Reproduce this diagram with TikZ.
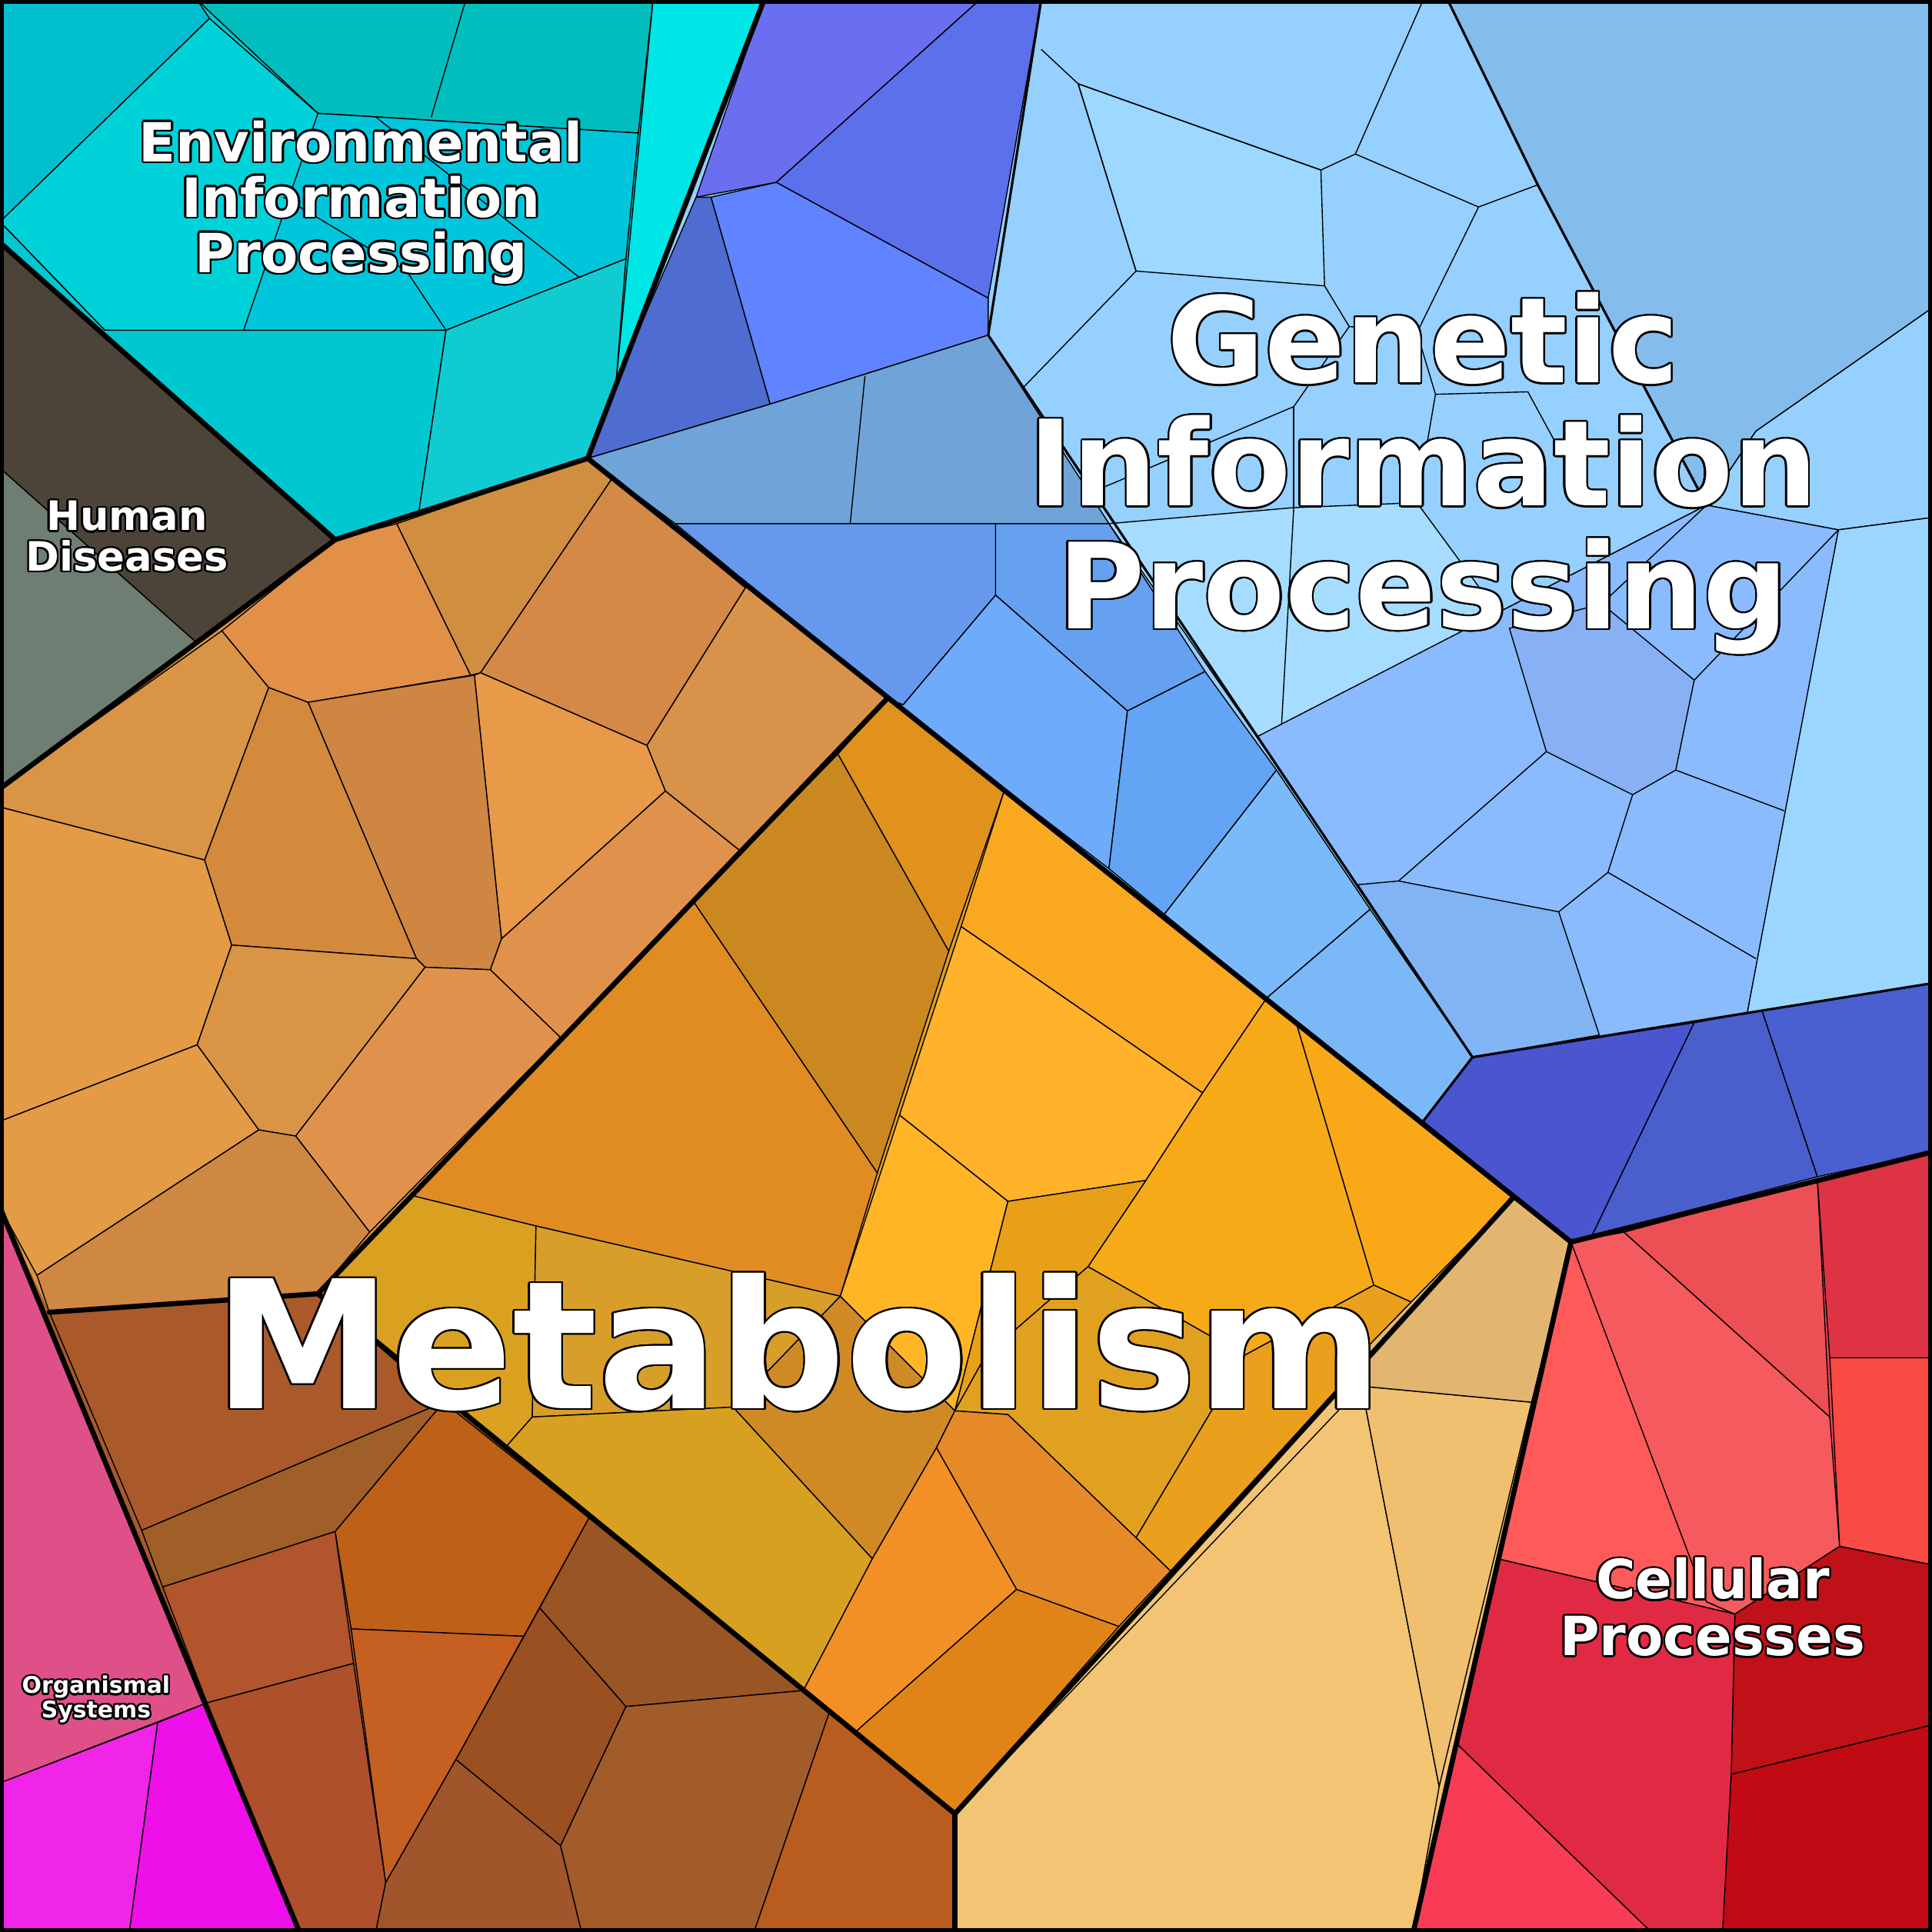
\documentclass[tikz,border=0pt]{standalone}
\usepackage{fontspec}
\setmainfont{DejaVu Sans}
\usepackage{contour}
\contourlength{0.7pt}
\newcommand{\C}[2]{\definecolor{tmpc}{HTML}{#1}\filldraw[cell,fill=tmpc] #2 -- cycle;}
\newcommand{\B}[2]{\definecolor{tmpc}{HTML}{#1}\fill[tmpc] #2 -- cycle;}
\begin{document}
\begin{tikzpicture}[x=0.01602cm,y=-0.01602cm,
  cell/.style={draw=black,line width=0.4pt,line join=round},
  thin/.style={draw=black,line width=0.4pt},
  thick/.style={draw=black,line width=1.9pt,line join=round,line cap=round},
  med/.style={draw=black,line width=0.9pt,line join=round},
  lab/.style={text=white,font=\bfseries,align=center,inner sep=0pt}]
\useasboundingbox (0,0) rectangle (1568,1568);
% ---------- base fills (avoid gaps)
\B{00C8D0}{(0,0)--(620,0)--(477,372)--(272,438)--(0,197)}
\B{4D4439}{(0,197)--(272,438)--(0,640)}
\B{95D0FF}{(620,0)--(1568,0)--(1568,935)--(1275,1008)--(477,372)}
\B{EE4455}{(1275,1008)--(1568,935)--(1568,1568)--(1147,1568)}
\B{D99445}{(0,640)--(272,438)--(477,372)--(720,567)--(258,1050)--(40,1065)--(0,980)}
\B{E0A020}{(720,567)--(1228,972)--(775,1472)--(258,1050)}
\B{A85A2A}{(40,1065)--(258,1050)--(775,1472)--(775,1568)--(243,1568)--(0,980)}
\B{F2C474}{(775,1472)--(1228,972)--(1275,1008)--(1147,1568)--(775,1568)}
\B{E05088}{(0,980)--(243,1568)--(0,1568)}
% ---------- Environmental
\C{00BFCF}{(0,0)--(160,0)--(170,15)--(0,180)}
\C{00BEBE}{(160,0)--(530,0)--(518,108)--(258,92)}
\draw[thin] (378,0)--(350,95);
\C{00D2DA}{(170,15)--(258,92)--(305,95)--(197,270)--(85,268)--(0,180)}
\C{00C6DC}{(258,92)--(518,108)--(508,210)--(362,268)--(197,270)}
\draw[thin] (305,95)--(470,225); \draw[thin] (230,160)--(330,220)--(362,268);
\C{00C8D0}{(85,268)--(362,268)--(340,415)--(272,438)--(0,197)--(0,180)}
\C{10CCD2}{(362,268)--(508,210)--(500,310)--(477,372)--(340,415)}
\C{00E5E5}{(530,0)--(620,0)--(500,310)}
% ---------- Human diseases
\C{4D4439}{(0,197)--(272,438)--(160,522)--(0,380)}
\C{6F7E72}{(0,380)--(160,522)--(0,640)}
% ---------- Genetic
\C{6A6FF0}{(620,0)--(795,0)--(630,148)--(565,160)}
\C{5C70EC}{(795,0)--(845,0)--(802,242)--(630,148)}
\C{6084FF}{(577,160)--(630,148)--(802,242)--(802,272)--(625,328)}
\C{4F6CD0}{(565,160)--(577,160)--(625,328)--(477,372)--(500,310)}
\C{70A4D8}{(477,372)--(625,328)--(802,272)--(900,425)--(548,425)}
\draw[thin] (702,305)--(690,425);
\C{6699EE}{(548,425)--(808,425)--(808,483)--(733,572)--(720,567)}
\C{66A0F0}{(808,425)--(900,425)--(978,545)--(915,577)--(808,483)}
\C{6EABFA}{(733,572)--(808,483)--(915,577)--(900,705)--(720,567)}
\C{64A4F4}{(915,577)--(978,545)--(1036,625)--(945,742)--(900,705)}
\C{7ABAFA}{(1036,625)--(1112,738)--(1028,810)--(945,742)}
\C{7AB8F8}{(1112,738)--(1195,858)--(1155,910)--(1028,810)}
\C{95D0FF}{(802,272)--(845,0)--(1175,0)--(1248,150)--(1385,410)--(1020,598)}
\C{9CD8FF}{(875,68)--(1072,138)--(1075,232)--(922,220)}
\C{A6DCFF}{(900,425)--(1050,412)--(1150,408)--(1225,510)--(1020,598)}
\draw[thin] (845,40)--(875,68)--(922,220)--(830,315);
\draw[thin] (875,68)--(1072,138)--(1100,125)--(1155,0);
\draw[thin] (1100,125)--(1200,168)--(1248,150);
\draw[thin] (1200,168)--(1150,270)--(1095,265)--(1075,232);
\draw[thin] (1150,270)--(1165,320)--(1240,318)--(1290,410);
\draw[thin] (1095,265)--(1050,330)--(885,400);
\draw[thin] (1050,330)--(1050,412);
\draw[thin] (1165,320)--(1150,408);
\draw[thin] (1050,412)--(1040,590);
\C{84BCEC}{(1175,0)--(1568,0)--(1568,250)--(1425,350)--(1385,410)--(1248,150)}
\C{95D0FF}{(1425,350)--(1568,250)--(1568,420)--(1492,430)--(1385,410)}
\C{9AD6FF}{(1492,430)--(1568,420)--(1568,798)--(1418,822)--(1448,658)}
\C{8ABBFF}{(1020,598)--(1385,410)--(1492,430)--(1418,822)--(1195,858)}
\C{88B0F4}{(1225,510)--(1300,490)--(1375,552)--(1360,625)--(1325,645)--(1255,610)}
\C{80B4F4}{(1102,718)--(1135,715)--(1265,740)--(1298,840)--(1195,858)}
\draw[thin] (1135,715)--(1255,610); \draw[thin] (1265,740)--(1305,708)--(1325,645);
\draw[thin] (1305,708)--(1425,778); \draw[thin] (1360,625)--(1448,658);
\draw[thin] (1375,552)--(1492,430); \draw[thin] (1300,490)--(1385,410);
\C{4A55D0}{(1195,858)--(1375,830)--(1292,1003)--(1275,1008)--(1155,910)}
\C{4A5ECC}{(1375,830)--(1430,820)--(1475,955)--(1292,1003)}
\C{4A60D0}{(1430,820)--(1568,798)--(1568,935)--(1475,955)}
% ---------- Cellular
\C{FF5A5A}{(1275,1008)--(1318,1000)--(1385,1300)--(1408,1310)--(1215,1265)}
\C{F55A5E}{(1275,1008)--(1318,1000)--(1485,1150)--(1493,1255)--(1408,1310)--(1385,1300)}
\C{EC5055}{(1318,1000)--(1475,958)--(1485,1150)}
\C{DD3344}{(1475,958)--(1568,935)--(1568,1102)--(1485,1102)}
\C{FA4A44}{(1485,1102)--(1568,1102)--(1568,1270)--(1493,1255)}
\C{C01018}{(1408,1310)--(1493,1255)--(1568,1270)--(1568,1400)--(1405,1440)}
\C{C20A14}{(1405,1440)--(1568,1400)--(1568,1568)--(1398,1568)}
\C{E02A44}{(1215,1265)--(1408,1310)--(1405,1440)--(1398,1568)--(1340,1568)--(1182,1415)}
\C{F83C55}{(1182,1415)--(1340,1568)--(1147,1568)}
% ---------- Metabolism: left orange
\C{E28F48}{(272,438)--(322,425)--(382,548)--(250,570)--(218,558)--(180,512)}
\C{CF8E40}{(322,425)--(477,372)--(497,388)--(390,546)--(382,548)}
\C{D58946}{(497,388)--(605,477)--(525,605)--(390,546)}
\C{D9924A}{(497,388)--(477,372)--(720,567)--(600,690)--(540,642)--(525,605)--(605,477)}
\C{E89A48}{(390,546)--(525,605)--(540,642)--(407,762)--(385,548)}
\C{CE8642}{(250,570)--(385,548)--(407,762)--(398,787)--(345,785)--(338,778)}
\C{D48A3C}{(218,558)--(250,570)--(338,778)--(188,767)--(166,698)}
\C{D99445}{(0,640)--(180,512)--(218,558)--(166,698)--(0,655)}
\C{E39B45}{(0,655)--(166,698)--(188,767)--(160,848)--(0,910)}
\C{D99445}{(188,767)--(338,778)--(345,785)--(240,922)--(210,917)--(160,848)}
\C{E0924C}{(345,785)--(398,787)--(455,842)--(300,1000)--(240,922)}
\C{E0924C}{(398,787)--(407,762)--(540,642)--(600,690)--(455,842)}
\C{E39B45}{(0,910)--(160,848)--(210,917)--(30,1035)--(0,980)}
\C{CF8842}{(30,1035)--(210,917)--(240,922)--(300,1000)--(258,1050)--(40,1065)}
% ---------- diamond
\C{E0921C}{(720,567)--(815,642)--(770,772)--(680,612)}
\C{CC8820}{(680,612)--(770,772)--(712,952)--(563,732)}
\C{E08C22}{(563,732)--(712,952)--(682,1052)--(435,995)--(333,970)}
\C{FAA820}{(720,567)--(1028,810)--(976,887)--(780,752)--(815,642)}
\C{FFB22A}{(780,752)--(976,887)--(930,958)--(818,975)--(730,905)}
\C{FFB526}{(730,905)--(818,975)--(775,1145)--(682,1052)}
\C{F6AA18}{(1028,810)--(1052,830)--(1115,1043)--(1010,1100)--(883,1028)--(930,958)--(976,887)}
\C{F9A817}{(1052,830)--(1228,972)--(1148,1058)--(1115,1043)}
\C{E8A018}{(818,975)--(930,958)--(883,1028)--(800,1100)--(775,1145)}
\C{DAA020}{(333,970)--(435,995)--(432,1150)--(410,1175)--(258,1050)}
\C{D89E2A}{(435,995)--(682,1052)--(595,1142)--(432,1150)}
\C{D8A020}{(410,1175)--(432,1150)--(595,1142)--(708,1265)--(652,1372)}
\C{D08A25}{(595,1142)--(682,1052)--(775,1145)--(760,1175)--(708,1265)}
\C{E0A020}{(775,1145)--(800,1100)--(883,1028)--(1010,1100)--(922,1248)--(950,1275)--(818,1148)}
\C{EAA01C}{(1010,1100)--(1115,1043)--(1148,1058)--(1228,972)--(950,1275)--(922,1248)}
\C{E68A28}{(775,1145)--(818,1148)--(950,1275)--(908,1320)--(825,1290)--(760,1175)}
\C{F39025}{(760,1175)--(825,1290)--(695,1405)--(652,1372)--(708,1265)}
\C{E08418}{(695,1405)--(825,1290)--(908,1320)--(775,1472)}
% ---------- brown
\C{AA5A2A}{(40,1065)--(258,1050)--(360,1138)--(115,1242)}
\C{A05E28}{(115,1242)--(360,1138)--(272,1243)--(132,1288)}
\C{BF6018}{(360,1138)--(478,1232)--(425,1328)--(285,1322)--(272,1243)}
\C{9A5525}{(478,1232)--(652,1372)--(508,1385)--(438,1305)}
\C{9A5020}{(438,1305)--(508,1385)--(455,1498)--(370,1428)}
\C{C56022}{(285,1322)--(425,1328)--(370,1428)--(313,1528)}
\C{B2542C}{(132,1288)--(272,1243)--(287,1350)--(168,1382)}
\C{AE502C}{(168,1382)--(287,1350)--(313,1528)--(305,1568)--(243,1568)}
\C{A0562A}{(313,1528)--(370,1428)--(455,1498)--(472,1568)--(305,1568)}
\C{A25C2A}{(455,1498)--(508,1385)--(652,1372)--(673,1390)--(612,1568)--(472,1568)}
\C{B85C20}{(673,1390)--(775,1472)--(775,1568)--(612,1568)}
% ---------- tan
\C{F2C474}{(775,1472)--(1105,1125)--(1168,1450)--(1147,1568)--(775,1568)}
\C{F0C070}{(1105,1125)--(1243,1138)--(1168,1450)}
\C{E2B670}{(1105,1125)--(1105,1098)--(1228,972)--(1275,1008)--(1243,1138)}
% ---------- Organismal
\C{E05088}{(0,980)--(168,1382)--(0,1447)}
\C{F025E8}{(0,1447)--(128,1398)--(105,1568)--(0,1568)}
\C{EE10E8}{(128,1398)--(168,1382)--(243,1568)--(105,1568)}
% ---------- borders
\draw[med] (845,0)--(802,272)--(1195,858)--(1568,798);
\draw[med] (1175,0)--(1248,150)--(1385,410);
\draw[med] (1195,858)--(1155,910);
\draw[thick] (620,0)--(477,372)--(272,438)--(0,197);
\draw[thick] (272,438)--(0,640);
\draw[thick] (477,372)--(1275,1008)--(1568,935);
\draw[thick] (1275,1008)--(1147,1568);
\draw[thick] (720,567)--(258,1050)--(775,1472)--(1228,972);
\draw[thick] (775,1472)--(775,1568);
\draw[thick] (258,1050)--(40,1065);
\draw[thick] (0,980)--(243,1568);
\draw[line width=2.6pt] (0,0) rectangle (1568,1568);
% ---------- labels
\node[lab,font=\bfseries\fontsize{66}{70}\selectfont] (met) at (648,1090) {\contour{black}{Metabolism}};
\node[lab,font=\bfseries\fontsize{44}{45.5}\selectfont] (gen) at (1155,385) {\contour{black}{Genetic}\\\contour{black}{Information}\\\contour{black}{Processing}};
\node[lab,font=\bfseries\fontsize{20}{20.5}\selectfont] (env) at (293,165) {\contour{black}{Environmental}\\\contour{black}{Information}\\\contour{black}{Processing}};
\node[lab,font=\bfseries\fontsize{15}{15}\selectfont] (hd) at (103,436) {\contour{black}{Human}\\\contour{black}{Diseases}};
\node[lab,font=\bfseries\fontsize{20}{21}\selectfont] (cp) at (1390,1305) {\contour{black}{Cellular}\\\contour{black}{Processes}};
\node[lab,font=\bfseries\fontsize{8.5}{9}\selectfont] (os) at (78,1380) {\contour{black}{Organismal}\\\contour{black}{Systems}};
\end{tikzpicture}
\end{document}
